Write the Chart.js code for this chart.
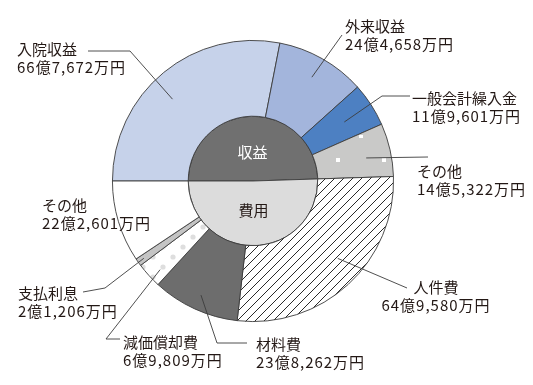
<!DOCTYPE html>
<html lang="ja">
<head>
    <meta charset="UTF-8">
    <title>収益と費用</title>
    <script src="https://cdn.jsdelivr.net/npm/chart.js"></script>
    <style>
        html, body {
            margin: 0;
            padding: 0;
            background: #ffffff;
        }
        canvas {
            display: block;
        }
    </style>
</head>
<body>
    <canvas id="budgetChart" width="533" height="385"></canvas>

    <script>
        // data (億円)
        const categories = ["入院収益", "外来収益", "一般会計繰入金", "その他", "人件費", "材料費", "減価償却費", "支払利息", "その他"];
        const amounts = [66.7672, 24.4658, 11.9601, 14.5322, 64.9580, 23.8262, 6.9809, 2.1206, 22.2601];
        const amountLabels = ["66億7,672万円", "24億4,658万円", "11億9,601万円", "14億5,322万円", "64億9,580万円", "23億8,262万円", "6億9,809万円", "2億1,206万円", "22億2,601万円"];
        const groupOf = ["収益", "収益", "収益", "収益", "費用", "費用", "費用", "費用", "費用"];
        const groupNames = ["収益", "費用"];

        const groupTotals = groupNames.map(g =>
            amounts.filter((v, i) => groupOf[i] === g).reduce((a, b) => a + b, 0));

        const textColor = "#231815";
        const lineColor = "#3c3c3c";
        const font = "15px 'Noto Sans CJK JP', 'Noto Sans', sans-serif";

        // label placement: text position, leader path, anchor inside the slice (angle fraction, ring fraction)
        const labelLayout = [
            { x: 17, y: 49, align: "left", at: [0.45, 0.66], path: [[130, 51], [88, 51]] },
            { x: 345, y: 26, align: "left", at: [0.5, 0.72], path: [[342, 35]] },
            { x: 412, y: 98, align: "left", at: [0.5, 0.58], path: [[382, 96], [410, 96]] },
            { x: 417, y: 171, align: "left", at: [0.56, 0.67], path: [[428, 157]] },
            { x: 436, y: 287, align: "center", at: [0.45, 0.66], path: [[407, 288]] },
            { x: 256, y: 344, align: "left", at: [0.5, 0.8], path: [[217, 343], [247, 343]] },
            { x: 123, y: 342, align: "left", at: [0.36, 0.84], path: [[106, 339], [120, 339]] },
            { x: 18, y: 293, align: "left", at: [0.5, 0.91], path: [[105, 288], [83, 292]] },
            { x: 42, y: 205, align: "left", at: null, path: null }
        ];
        const lineHeight = 18.5;

        function makePattern(size, draw) {
            const c = document.createElement("canvas");
            c.width = size;
            c.height = size;
            const g = c.getContext("2d");
            draw(g, size);
            return g.createPattern(c, "repeat");
        }

        const ctx = document.getElementById("budgetChart").getContext("2d");

        const hatch = makePattern(9, (g, s) => {
            g.fillStyle = "#ffffff";
            g.fillRect(0, 0, s, s);
            g.strokeStyle = "#2a2a2a";
            g.lineWidth = 1;
            g.beginPath();
            g.moveTo(-1, s + 1); g.lineTo(s + 1, -1);
            g.moveTo(-1, 1); g.lineTo(1, -1);
            g.moveTo(s - 1, s + 1); g.lineTo(s + 1, s - 1);
            g.stroke();
        });

        const graySquares = makePattern(46, (g, s) => {
            g.fillStyle = "#c9c9c8";
            g.fillRect(0, 0, s, s);
            g.fillStyle = "#ffffff";
            g.fillRect(14, 20, 4, 4);
            g.fillRect(37, 43, 4, 4);
        });

        const dots = makePattern(20, (g, s) => {
            g.fillStyle = "#ffffff";
            g.fillRect(0, 0, s, s);
            g.fillStyle = "#dedede";
            g.beginPath();
            g.arc(3, 7, 2.6, 0, Math.PI * 2);
            g.arc(13, 17, 2.6, 0, Math.PI * 2);
            g.fill();
        });

        const sliceFills = ["#c6d2ea", "#a3b5dc", "#4d80c2", graySquares, hatch, "#6d6d6d", dots, "#c4c4c4", "#ffffff"];

        const leaderLabels = {
            id: "leaderLabels",
            afterDraw(chart) {
                const c = chart.ctx;
                const outer = chart.getDatasetMeta(0).data;
                c.save();
                c.font = font;
                c.textBaseline = "middle";

                outer.forEach((arc, i) => {
                    const lay = labelLayout[i];
                    const p = arc.getProps(["x", "y", "startAngle", "endAngle", "innerRadius", "outerRadius"], true);
                    if (lay.path) {
                        const a = p.startAngle + lay.at[0] * (p.endAngle - p.startAngle);
                        const r = p.innerRadius + lay.at[1] * (p.outerRadius - p.innerRadius);
                        c.strokeStyle = lineColor;
                        c.lineWidth = 0.9;
                        c.beginPath();
                        c.moveTo(p.x + Math.cos(a) * r, p.y + Math.sin(a) * r);
                        lay.path.forEach(pt => c.lineTo(pt[0], pt[1]));
                        c.stroke();
                    }
                    c.fillStyle = textColor;
                    c.textAlign = lay.align;
                    c.letterSpacing = "0px";
                    c.fillText(categories[i], lay.x, lay.y);
                    // the amount line is set a little wider in the original
                    c.letterSpacing = "1px";
                    c.fillText(amountLabels[i], lay.x, lay.y + lineHeight);
                });
                c.letterSpacing = "0px";

                // group names in the centre pie
                const inner = chart.getDatasetMeta(1).data;
                inner.forEach((arc, i) => {
                    const p = arc.getProps(["x", "y", "startAngle", "endAngle", "outerRadius"], true);
                    const a = (p.startAngle + p.endAngle) / 2;
                    const r = p.outerRadius * 0.45;
                    c.fillStyle = i === 0 ? "#ffffff" : textColor;
                    c.textAlign = "center";
                    c.fillText(groupNames[i], p.x + Math.cos(a) * r, p.y + Math.sin(a) * r);
                });
                c.restore();
            }
        };

        new Chart(ctx, {
            type: "doughnut",
            data: {
                labels: categories,
                datasets: [
                    {
                        data: amounts,
                        backgroundColor: sliceFills,
                        borderColor: lineColor,
                        borderWidth: 0.9,
                        weight: 76
                    },
                    {
                        data: groupTotals,
                        backgroundColor: ["#707070", "#dcdcdc"],
                        borderColor: lineColor,
                        borderWidth: 0.9,
                        weight: 65
                    }
                ]
            },
            options: {
                responsive: false,
                animation: false,
                rotation: -90,
                cutout: 0,
                layout: {
                    padding: { left: 112, right: 139, top: 40, bottom: 63 }
                },
                plugins: {
                    legend: { display: false },
                    tooltip: { enabled: false }
                }
            },
            plugins: [leaderLabels]
        });
    </script>
</body>
</html>
